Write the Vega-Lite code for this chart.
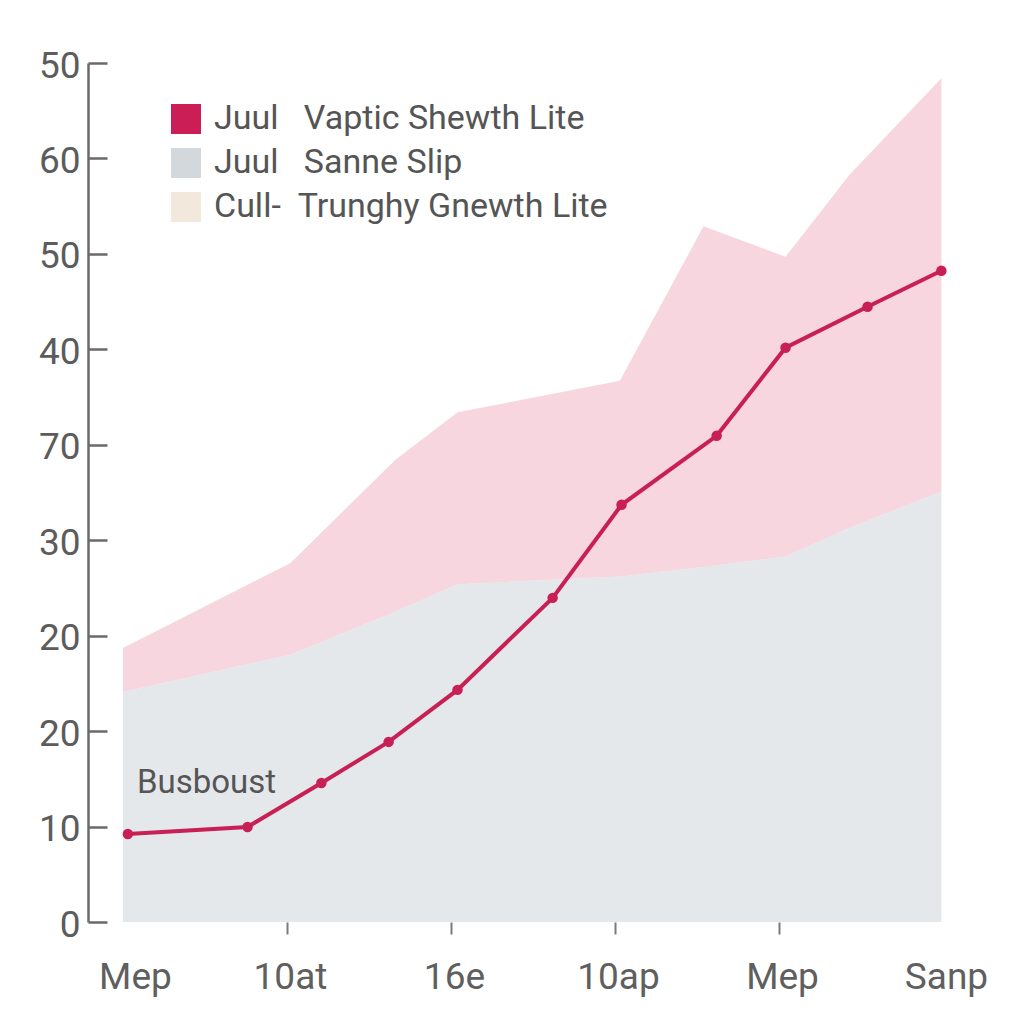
{
  "$schema": "https://vega.github.io/schema/vega-lite/v6.json",
  "width": 855,
  "height": 859,
  "autosize": "none",
  "padding": {"left": 88, "top": 63, "right": 81, "bottom": 102},
  "background": "white",
  "config": {
    "view": {"stroke": null},
    "font": "Roboto",
    "text": {"font": "Roboto"}
  },
  "datasets": {
    "line": [
      {"x": 0.03, "y": 9.22},
      {"x": 0.76, "y": 9.96},
      {"x": 1.21, "y": 14.57},
      {"x": 1.62, "y": 18.87},
      {"x": 2.04, "y": 24.32},
      {"x": 2.62, "y": 33.96},
      {"x": 3.04, "y": 43.71},
      {"x": 3.62, "y": 50.94},
      {"x": 4.04, "y": 60.17},
      {"x": 4.54, "y": 64.47},
      {"x": 4.99, "y": 68.24}
    ],
    "band": [
      {"x": 0.0, "low": 24.1, "high": 28.7, "series": "Juul Sanne Slip"},
      {"x": 1.02, "low": 28.0, "high": 37.6, "series": "Juul Sanne Slip"},
      {"x": 1.66, "low": 32.5, "high": 48.4, "series": "Juul Sanne Slip"},
      {"x": 2.04, "low": 35.4, "high": 53.4, "series": "Juul Sanne Slip"},
      {"x": 3.03, "low": 36.2, "high": 56.7, "series": "Juul Sanne Slip"},
      {"x": 3.54, "low": 37.2, "high": 72.9, "series": "Juul Sanne Slip"},
      {"x": 4.04, "low": 38.3, "high": 69.7, "series": "Juul Sanne Slip"},
      {"x": 4.43, "low": 41.3, "high": 78.3, "series": "Juul Sanne Slip"},
      {"x": 4.99, "low": 45.1, "high": 88.4, "series": "Juul Sanne Slip"}
    ],
    "note": [{"label": "Busboust"}]
  },
  "encoding": {
    "x": {
      "type": "quantitative",
      "scale": {"domain": [-0.213, 5], "nice": false, "zero": false},
      "axis": {
        "title": null,
        "grid": false,
        "domain": false,
        "values": [0, 1, 2, 3, 4, 5],
        "labelExpr": "['Mep','10at','16e','10ap','Mep','Sanp'][datum.value]",
        "labelFlush": false,
        "labelOverlap": false,
        "labelFont": "Roboto",
        "labelFontSize": 37,
        "labelColor": "#5f5f5f",
        "labelPadding": 25,
        "labelOffset": {"condition": {"test": "datum.value == 0", "value": 12}, "value": 3},
        "tickColor": "#7a7a7a",
        "tickWidth": 2,
        "tickSize": 12,
        "tickOpacity": {"condition": {"test": "datum.value == 0 || datum.value == 5", "value": 0}, "value": 1}
      }
    },
    "y": {
      "type": "quantitative",
      "scale": {"domain": [0, 90], "nice": false},
      "axis": {
        "title": null,
        "grid": false,
        "values": [0, 10, 20, 30, 40, 50, 60, 70, 80, 90],
        "labelExpr": "['0','10','20','20','30','70','40','50','60','50'][datum.value / 10]",
        "labelFlush": false,
        "labelOverlap": false,
        "labelFont": "Roboto",
        "labelFontSize": 37,
        "labelColor": "#5c5c5c",
        "labelPadding": 27,
        "labelOffset": 3,
        "domainColor": "#6a6a6a",
        "domainWidth": 2.5,
        "tickColor": "#6a6a6a",
        "tickWidth": 2.5,
        "tickSize": -19
      }
    }
  },
  "layer": [
    {
      "data": {"name": "band"},
      "mark": {"type": "area", "color": "#f7d6df", "opacity": 1},
      "encoding": {
        "x": {"field": "x"},
        "y": {"field": "high"},
        "y2": {"field": "low"}
      }
    },
    {
      "data": {"name": "band"},
      "mark": {"type": "area", "opacity": 0.6},
      "encoding": {
        "x": {"field": "x"},
        "y": {"field": "low"},
        "color": {
          "field": "series",
          "type": "nominal",
          "scale": {
            "domain": ["Juul Vaptic Shewth Lite", "Juul Sanne Slip", "Cull- Trunghy Gnewth Lite"],
            "range": ["#cc1e56", "#d3d8dd", "#f3e8dc"]
          },
          "legend": {
            "title": null,
            "orient": "none",
            "legendX": 81,
            "legendY": 39,
            "symbolType": "square",
            "symbolSize": 900,
            "symbolOpacity": 1,
            "symbolStrokeWidth": 0,
            "labelFont": "Roboto",
            "labelFontSize": 34,
            "labelColor": "#555555",
            "labelOffset": 11,
            "rowPadding": 10,
            "labelLimit": 700,
            "labelExpr": "datum.label == 'Cull- Trunghy Gnewth Lite' ? 'Cull-\u00a0\u00a0Trunghy Gnewth Lite' : replace(datum.label, ' ', '\u00a0\u00a0\u00a0')"
          }
        }
      }
    },
    {
      "data": {"name": "line"},
      "mark": {"type": "line", "color": "#c81f55", "strokeWidth": 4},
      "encoding": {
        "x": {"field": "x"},
        "y": {"field": "y"}
      }
    },
    {
      "data": {"name": "line"},
      "mark": {"type": "circle", "color": "#c81f55", "opacity": 1, "size": 110},
      "encoding": {
        "x": {"field": "x"},
        "y": {"field": "y"}
      }
    },
    {
      "data": {"name": "note"},
      "mark": {"type": "text", "align": "left", "baseline": "middle", "fontSize": 33, "color": "#555555", "font": "Roboto"},
      "encoding": {
        "x": {"datum": 0.085},
        "y": {"datum": 14.6},
        "text": {"field": "label"}
      }
    }
  ]
}
